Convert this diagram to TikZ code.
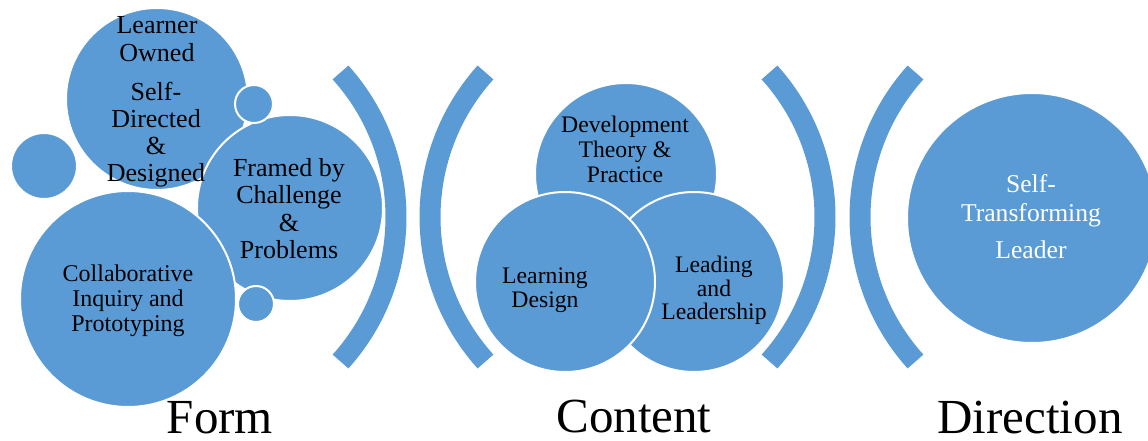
\documentclass[tikz,border=0pt]{standalone}
\usepackage{fontspec}
\setmainfont{Liberation Serif}
\definecolor{blobblue}{HTML}{5B9BD5}
\begin{document}
\begin{tikzpicture}[x=1pt,y=1pt,
  blob/.style={circle, fill=blobblue, draw=white, line width=2pt, inner sep=0pt, minimum size=#1},
  paren/.style={draw=blobblue, line width=21pt, line cap=butt},
  lblA/.style={align=center, inner sep=0pt, anchor=base, font=\fontsize{26pt}{27.5pt}\selectfont},
  lblB/.style={align=center, inner sep=0pt, anchor=base, font=\fontsize{24pt}{25pt}\selectfont},
  lblC/.style={align=center, inner sep=0pt, anchor=base, font=\fontsize{23.7pt}{24.5pt}\selectfont},
  big/.style={inner sep=0pt, anchor=base, font=\fontsize{49pt}{55pt}\selectfont}]
\useasboundingbox (0,0) rectangle (1148,441);
% Form group circles
\node[blob=182pt] (lo) at (157,342) {};
\node[blob=66pt] (sl) at (44,275) {};
\node[blob=186pt] (fr) at (290,233) {};
\node[blob=38pt] (st) at (254,337) {};
\node[blob=216pt] (co) at (128,142) {};
\node[blob=36pt] (sb) at (256,137) {};
% Content circles
\node[blob=182pt] (dv) at (626,267) {};
\node[blob=180pt] (ld) at (694,159) {};
\node[blob=180pt] (lg) at (565,159) {};
% Direction circle
\node[blob=250pt] (tr) at (1032,223) {};
% brackets
\coordinate (c1) at (180,224);
\coordinate (c2) at (646,224);
\coordinate (c3) at (609,224);
\coordinate (c4) at (1076,224);
\draw[paren] (c1) ++(-42:216) arc[start angle=-42, end angle=42, radius=216];
\draw[paren] (c2) ++(138:216) arc[start angle=138, end angle=222, radius=216];
\draw[paren] (c3) ++(-42:216) arc[start angle=-42, end angle=42, radius=216];
\draw[paren] (c4) ++(138:216) arc[start angle=138, end angle=222, radius=216];
% texts
\node[lblA, font=\fontsize{26pt}{28pt}\selectfont] (t1) at (157,379) {Learner\\Owned};
\node[lblA, font=\fontsize{26pt}{27pt}\selectfont] (t2) at (156,259) {Self-\\Directed\\\&\\Designed};
\node[lblA] (t3) at (289,182) {Framed by\\Challenge\\\&\\Problems};
\node[lblB] (t4) at (128,109) {Collaborative\\Inquiry and\\Prototyping};
\node[lblC, font=\fontsize{23.7pt}{25pt}\selectfont] (t5) at (625,258) {Development\\Theory \&\\Practice};
\node[lblC, font=\fontsize{23.7pt}{24pt}\selectfont] (t6) at (545,133) {Learning\\Design};
\node[lblC, font=\fontsize{23.7pt}{23.5pt}\selectfont] (t7) at (714,121) {Leading\\and\\Leadership};
\node[lblA, text=white, font=\fontsize{25.6pt}{29pt}\selectfont] (t8) at (1031,182) {Self-\\Transforming\\[8pt]Leader};
\node[big] (f1) at (220,7) {Form};
\node[big] (f2) at (634,8) {Content};
\node[big] (f3) at (1030,7) {Direction};
\end{tikzpicture}
\end{document}
